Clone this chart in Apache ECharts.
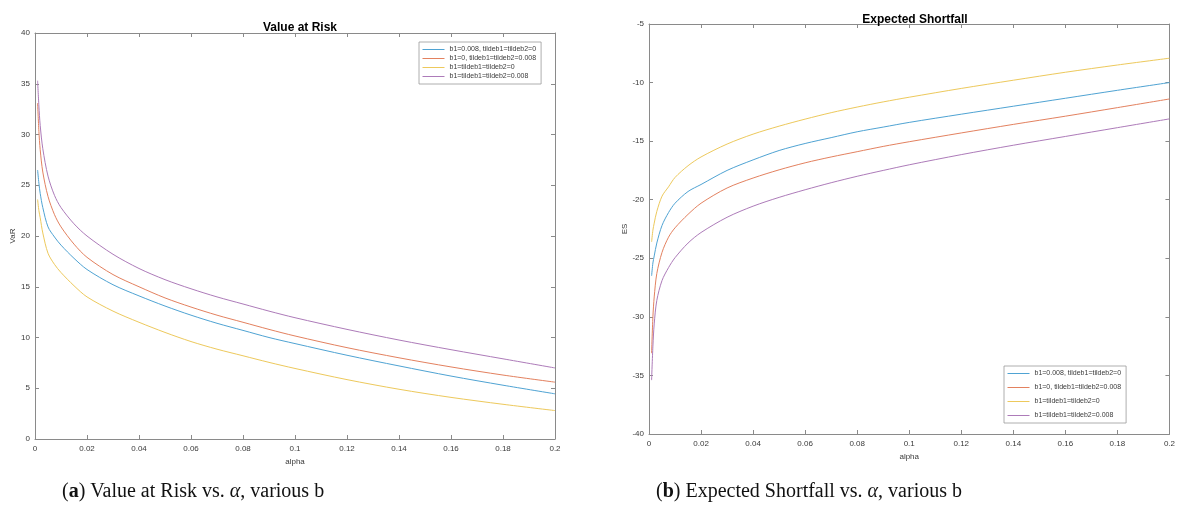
<!DOCTYPE html>
<html>
<head>
<meta charset="utf-8">
<script src="https://cdn.jsdelivr.net/npm/echarts@6/dist/echarts.min.js"></script>
<style>html,body{margin:0;padding:0;background:#fff;}#c{width:1178px;height:520px;}</style>
</head>
<body>
<div id="c"></div>
<script>
var seriesNames = ['b1=0.008, tildeb1=tildeb2=0', 'b1=0, tildeb1=tildeb2=0.008', 'b1=tildeb1=tildeb2=0', 'b1=tildeb1=tildeb2=0.008'];
var alpha = [0.001, 0.0015, 0.002, 0.003, 0.005, 0.0075, 0.01, 0.015, 0.02, 0.03, 0.04, 0.05, 0.06, 0.07, 0.08, 0.09, 0.1, 0.12, 0.14, 0.16, 0.18, 0.2];
var xTicks = [0, 0.02, 0.04, 0.06, 0.08, 0.1, 0.12, 0.14, 0.16, 0.18, 0.2];
var varTicks = [0, 5, 10, 15, 20, 25, 30, 35, 40];
var esTicks = [-40, -35, -30, -25, -20, -15, -10, -5];

// Value at Risk
var varBlue   = [26.5, 25.2, 24.2, 22.8, 20.9, 19.9, 19.1, 17.8, 16.7, 15.2, 14.1, 13.1, 12.2, 11.4, 10.7, 10.0, 9.4, 8.25, 7.2, 6.2, 5.3, 4.45];
var varOrange = [33.1, 30.3, 28.5, 26.3, 23.9, 22.1, 20.9, 19.2, 17.9, 16.2, 15.0, 13.9, 13.0, 12.2, 11.5, 10.8, 10.15, 9.0, 8.0, 7.1, 6.3, 5.6];
var varYellow = [23.6, 22.5, 21.8, 20.3, 18.3, 17.2, 16.4, 15.1, 14.0, 12.6, 11.5, 10.5, 9.6, 8.85, 8.2, 7.55, 6.95, 5.85, 4.9, 4.1, 3.42, 2.8];
var varPurple = [35.3, 32.8, 30.9, 28.6, 25.9, 24.0, 22.8, 21.2, 20.0, 18.2, 16.8, 15.7, 14.8, 14.0, 13.3, 12.6, 11.95, 10.8, 9.75, 8.8, 7.9, 7.0];

// Expected Shortfall
var esBlue   = [-26.5, -25.4, -24.8, -23.7, -22.2, -21.1, -20.3, -19.3, -18.7, -17.5, -16.6, -15.8, -15.2, -14.7, -14.2, -13.8, -13.4, -12.7, -12.02, -11.34, -10.66, -10.0];
var esOrange = [-33.1, -30.0, -28.3, -26.3, -24.5, -23.2, -22.4, -21.25, -20.3, -19.0, -18.15, -17.45, -16.85, -16.35, -15.9, -15.45, -15.05, -14.3, -13.57, -12.87, -12.14, -11.4];
var esYellow = [-23.6, -22.6, -22.0, -21.0, -19.7, -18.9, -18.1, -17.1, -16.35, -15.25, -14.4, -13.72, -13.12, -12.57, -12.09, -11.65, -11.25, -10.5, -9.8, -9.12, -8.5, -7.92];
var esPurple = [-35.4, -32.5, -30.6, -28.6, -26.9, -25.8, -24.95, -23.7, -22.8, -21.5, -20.55, -19.8, -19.15, -18.55, -18.0, -17.5, -17.02, -16.15, -15.35, -14.6, -13.85, -13.1];

var colors = ['#4fa3d3', '#e3815f', '#edc95c', '#ad7bb9'];
var axisColor = '#8a8a8a';
var labelColor = '#3a3a3a';
var baseFont = 'Liberation Sans';
var capFont = 'Liberation Serif';

function pairs(vals) { return alpha.map(function (a, i) { return [a, vals[i]]; }); }

function xAx(grid, pos, showLabel, name) {
  return {
    type: 'value', gridIndex: grid, position: pos, min: 0, max: 0.2, interval: 0.02,
    name: name || '', nameLocation: 'middle', nameGap: 17,
    nameTextStyle: { fontSize: 8, color: labelColor, fontFamily: baseFont },
    axisLine: { show: true, onZero: false, lineStyle: { color: axisColor, width: 1 } },
    axisTick: { show: true, inside: true, length: 4, lineStyle: { color: axisColor } },
    axisLabel: { show: showLabel, fontSize: 8, color: labelColor, fontFamily: baseFont, margin: 6,
      formatter: function (v) { return String(Math.round(v * 100) / 100); } },
    splitLine: { show: false }
  };
}
function yAx(grid, pos, showLabel, mn, mx, name, gap) {
  return {
    type: 'value', gridIndex: grid, position: pos, min: mn, max: mx, interval: 5,
    name: name || '', nameLocation: 'middle', nameGap: gap || 18,
    nameTextStyle: { fontSize: 8, color: labelColor, fontFamily: baseFont },
    axisLine: { show: true, onZero: false, lineStyle: { color: axisColor, width: 1 } },
    axisTick: { show: true, inside: true, length: 4, lineStyle: { color: axisColor } },
    axisLabel: { show: showLabel, fontSize: 8, color: labelColor, fontFamily: baseFont, margin: 5 },
    splitLine: { show: false }
  };
}
function line(name, vals, xi, yi, color) {
  return {
    name: name, type: 'line', xAxisIndex: xi, yAxisIndex: yi, data: pairs(vals),
    symbol: 'none', showSymbol: false, smooth: 0.3,
    lineStyle: { width: 1, color: color }, itemStyle: { color: color }, silent: true
  };
}
function legendCfg(left, top, gap) {
  return {
    data: seriesNames,
    orient: 'vertical', left: left, top: top,
    itemWidth: 22, itemHeight: 7, itemGap: gap, padding: [4, 5, 4, 3],
    itemStyle: { opacity: 0 },
    lineStyle: { width: 1 },
    backgroundColor: '#fff', borderColor: '#9a9a9a', borderWidth: 0.8,
    textStyle: { fontSize: 7, lineHeight: 7, color: labelColor, fontFamily: baseFont },
    selectedMode: false
  };
}
function caption(letter, body) {
  return {
    text: '({b|' + letter + '}) ' + body.replace('α', '{i|α}'),
    rich: { b: { fontWeight: 'bold', fontSize: 20, fontFamily: capFont, fill: '#111' },
            i: { fontStyle: 'italic', fontSize: 20, fontFamily: capFont, fill: '#111' } },
    fontSize: 20, fontFamily: capFont, fill: '#111'
  };
}

var chart = echarts.init(document.getElementById('c'), null, { renderer: 'canvas' });
chart.setOption({
  animation: false,
  backgroundColor: '#fff',
  title: [
    { text: 'Value at Risk', left: 295, top: 17, textAlign: 'center',
      textStyle: { fontSize: 12, fontWeight: 'bold', color: '#000', fontFamily: baseFont } },
    { text: 'Expected Shortfall', left: 910, top: 9, textAlign: 'center',
      textStyle: { fontSize: 12, fontWeight: 'bold', color: '#000', fontFamily: baseFont } }
  ],
  grid: [
    { left: 35, top: 33, width: 520, height: 406, show: false },
    { left: 649, top: 24, width: 522, height: 410, show: false }
  ],
  xAxis: [xAx(0, 'bottom', true, 'alpha'), xAx(0, 'top', false), xAx(1, 'bottom', true, 'alpha'), xAx(1, 'top', false)],
  yAxis: [yAx(0, 'left', true, 0, 40, 'VaR', 15), yAx(0, 'right', false, 0, 40),
          yAx(1, 'left', true, -40, -5, 'ES', 19), yAx(1, 'right', false, -40, -5)],
  legend: [legendCfg(419, 42, 2), legendCfg(1004, 366, 7)],
  series: [
    line(seriesNames[0], varBlue, 0, 0, colors[0]),
    line(seriesNames[1], varOrange, 0, 0, colors[1]),
    line(seriesNames[2], varYellow, 0, 0, colors[2]),
    line(seriesNames[3], varPurple, 0, 0, colors[3]),
    line(seriesNames[0], esBlue, 2, 2, colors[0]),
    line(seriesNames[1], esOrange, 2, 2, colors[1]),
    line(seriesNames[2], esYellow, 2, 2, colors[2]),
    line(seriesNames[3], esPurple, 2, 2, colors[3])
  ],
  graphic: [
    { type: 'text', left: 62, top: 482, style: caption('a', 'Value at Risk vs. α, various b') },
    { type: 'text', left: 656, top: 482, style: caption('b', 'Expected Shortfall vs. α, various b') }
  ]
});
</script>
</body>
</html>
